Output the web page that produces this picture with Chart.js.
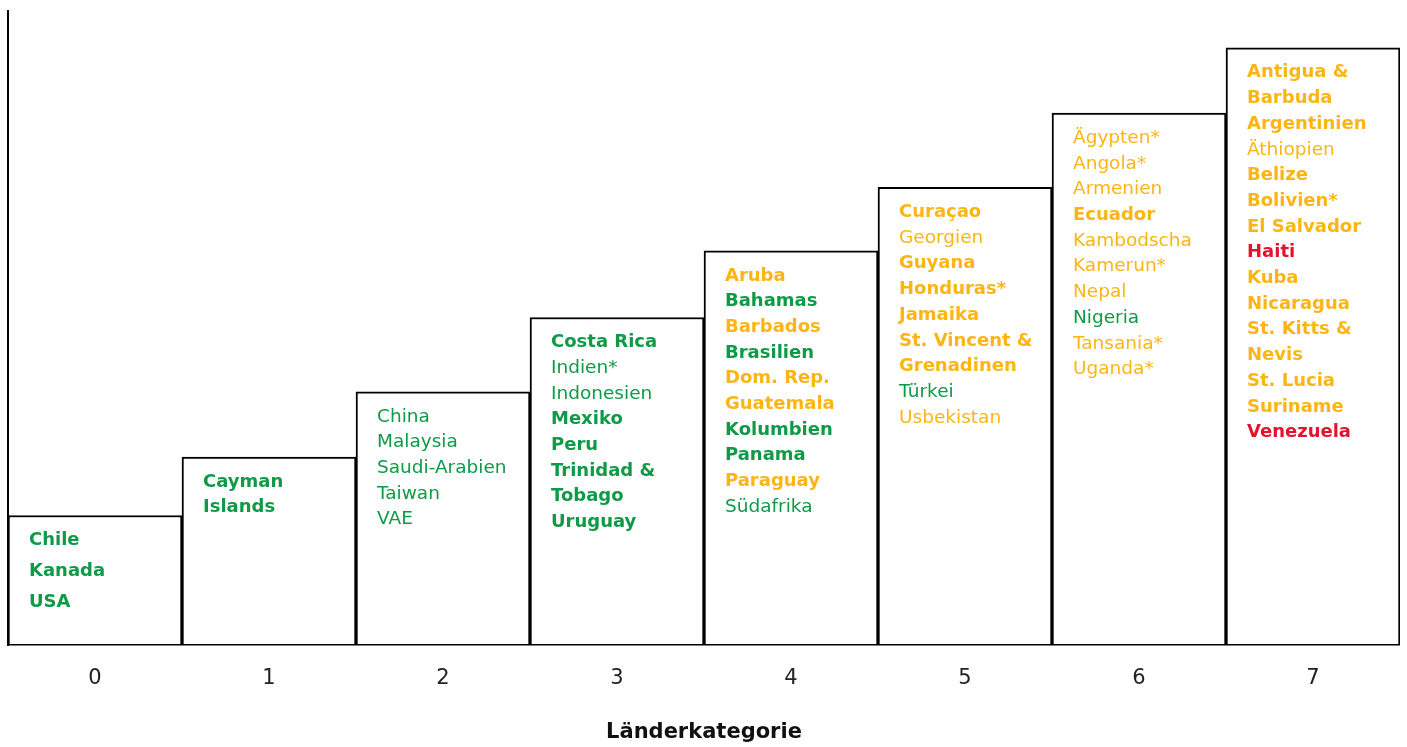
<!DOCTYPE html>
<html lang="de">
<head>
<meta charset="utf-8">
<title>Länderkategorie</title>
<script src="https://cdn.jsdelivr.net/npm/chart.js@4.4.1/dist/chart.umd.min.js"></script>
<style>
  html, body { margin: 0; padding: 0; background: #fff; }
  #wrap { width: 1407px; height: 747px; }
</style>
</head>
<body>
<div id="wrap"><canvas id="grafico"></canvas></div>
<script>
// Kategorien auf der x-Achse
const kategorien = ['0', '1', '2', '3', '4', '5', '6', '7'];

// Höhe der Stufen (Skala 0–10)
const stufenHoehe = [2.05, 2.97, 4.0, 5.17, 6.22, 7.22, 8.39, 9.42];

// Länder je Kategorie: [Name, Bewertung g/o/r, Amerika ja/nein]
const laender0 = [['Chile', 'g', 1], ['Kanada', 'g', 1], ['USA', 'g', 1]];
const laender1 = [['Cayman\nIslands', 'g', 1]];
const laender2 = [['China', 'g', 0], ['Malaysia', 'g', 0], ['Saudi-Arabien', 'g', 0], ['Taiwan', 'g', 0], ['VAE', 'g', 0]];
const laender3 = [['Costa Rica', 'g', 1], ['Indien*', 'g', 0], ['Indonesien', 'g', 0], ['Mexiko', 'g', 1], ['Peru', 'g', 1], ['Trinidad &\nTobago', 'g', 1], ['Uruguay', 'g', 1]];
const laender4 = [['Aruba', 'o', 1], ['Bahamas', 'g', 1], ['Barbados', 'o', 1], ['Brasilien', 'g', 1], ['Dom. Rep.', 'o', 1], ['Guatemala', 'o', 1], ['Kolumbien', 'g', 1], ['Panama', 'g', 1], ['Paraguay', 'o', 1], ['Südafrika', 'g', 0]];
const laender5 = [['Curaçao', 'o', 1], ['Georgien', 'o', 0], ['Guyana', 'o', 1], ['Honduras*', 'o', 1], ['Jamaika', 'o', 1], ['St. Vincent &\nGrenadinen', 'o', 1], ['Türkei', 'g', 0], ['Usbekistan', 'o', 0]];
const laender6 = [['Ägypten*', 'o', 0], ['Angola*', 'o', 0], ['Armenien', 'o', 0], ['Ecuador', 'o', 1], ['Kambodscha', 'o', 0], ['Kamerun*', 'o', 0], ['Nepal', 'o', 0], ['Nigeria', 'g', 0], ['Tansania*', 'o', 0], ['Uganda*', 'o', 0]];
const laender7 = [['Antigua &\nBarbuda', 'o', 1], ['Argentinien', 'o', 1], ['Äthiopien', 'o', 0], ['Belize', 'o', 1], ['Bolivien*', 'o', 1], ['El Salvador', 'o', 1], ['Haiti', 'r', 1], ['Kuba', 'o', 1], ['Nicaragua', 'o', 1], ['St. Kitts &\nNevis', 'o', 1], ['St. Lucia', 'o', 1], ['Suriname', 'o', 1], ['Venezuela', 'r', 1]];

const laender = [laender0, laender1, laender2, laender3, laender4, laender5, laender6, laender7];

const farben = { g: '#0e9a47', o: '#fdb515', r: '#e3132c' };
const FUENTE = '"DejaVu Sans", sans-serif';

// schreibt die Ländernamen in die Stufen
const pluginLaender = {
    id: 'laenderText',
    afterDatasetsDraw(chart) {
        const ctx = chart.ctx;
        const meta = chart.getDatasetMeta(0);
        ctx.save();
        ctx.textAlign = 'left';
        ctx.textBaseline = 'middle';
        meta.data.forEach((bar, i) => {
            const x = bar.x - bar.width / 2 + 21;
            let y = bar.y + 25;
            const paso = i === 0 ? 31 : 25.7;
            laender[i].forEach(([nombre, nota, amerika]) => {
                ctx.fillStyle = farben[nota];
                ctx.font = amerika ? 'bold 18px ' + FUENTE : '18.5px ' + FUENTE;
                nombre.split('\n').forEach(linea => {
                    ctx.fillText(linea, x, y);
                    y += paso;
                });
            });
        });
        ctx.restore();
    }
};

new Chart(document.getElementById('grafico'), {
    type: 'bar',
    data: {
        labels: kategorien,
        datasets: [{
            data: stufenHoehe,
            backgroundColor: '#ffffff',
            borderColor: '#000000',
            borderWidth: 2,
            borderSkipped: false,
            barPercentage: 1,
            categoryPercentage: 1
        }]
    },
    options: {
        responsive: true,
        maintainAspectRatio: false,
        animation: false,
        layout: { padding: { top: 11, left: 8, right: 7, bottom: 0 } },
        scales: {
            x: {
                grid: { display: false, drawTicks: false },
                border: { display: false },
                ticks: {
                    padding: 20,
                    color: '#222',
                    font: { family: FUENTE, size: 21 }
                },
                title: {
                    display: true,
                    text: 'Länderkategorie',
                    color: '#111',
                    font: { family: FUENTE, size: 21, weight: 'bold' },
                    padding: { top: 9, bottom: 2 }
                }
            },
            y: {
                min: 0,
                max: 10,
                grid: { display: false, drawTicks: false },
                ticks: { display: false },
                border: { display: true, color: '#000', width: 2 }
            }
        },
        plugins: {
            legend: { display: false },
            tooltip: { enabled: false }
        }
    },
    plugins: [pluginLaender]
});
</script>
</body>
</html>
